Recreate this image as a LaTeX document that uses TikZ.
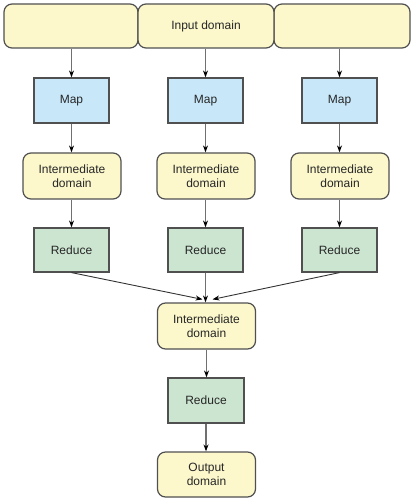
\documentclass[tikz,border=0pt]{standalone}
\usepackage{fontspec}
\setmainfont{Liberation Sans}
\usetikzlibrary{arrows.meta}
\definecolor{yel}{HTML}{FCF8CC}
\definecolor{blu}{HTML}{C8E8FA}
\definecolor{grn}{HTML}{CCE5D0}
\definecolor{edge}{HTML}{505050}
\definecolor{ln}{HTML}{707070}
\tikzset{
  box/.style={draw=edge, line width=1.2pt, inner sep=0pt, align=center, text=black!85,
    font=\fontsize{12}{14}\selectfont},
  dom/.style={box, fill=yel, rounded corners=8pt, minimum width=98pt, minimum height=46pt},
  mapbox/.style={box, fill=blu, minimum width=75pt, minimum height=45pt},
  redbox/.style={box, fill=grn, minimum width=75pt, minimum height=44pt},
  inseg/.style={box, fill=yel, rounded corners=8pt, minimum height=44pt},
  arr/.style={draw=ln, line width=1.4pt, -{Stealth[black,length=7pt,width=5pt]}},
  sarr/.style={draw=black!80, line width=0.9pt, -{Stealth[black,length=7pt,width=5pt]}}
}
\begin{document}
\begin{tikzpicture}[x=1pt,y=-1pt]
\useasboundingbox (0,0) rectangle (416,502);
% input domain segments
\node[inseg, minimum width=134pt] (in1) at (71,26) {};
\node[inseg, minimum width=136pt] (in3) at (342,26) {};
\node[inseg, minimum width=136pt] (in2) at (206,26) {Input domain};
% maps
\node[mapbox] (m1) at (71.5,100.5) {Map};
\node[mapbox] (m2) at (205.5,100.5) {Map};
\node[mapbox] (m3) at (339.5,100.5) {Map};
% intermediate
\node[dom] (i1) at (72,176) {Intermediate\\domain};
\node[dom] (i2) at (206,176) {Intermediate\\domain};
\node[dom] (i3) at (340,176) {Intermediate\\domain};
% reduce
\node[redbox] (r1) at (71.5,250) {Reduce};
\node[redbox] (r2) at (205.5,250) {Reduce};
\node[redbox] (r3) at (339.5,250) {Reduce};
% bottom chain
\node[dom] (i4) at (206.5,326) {Intermediate\\domain};
\node[redbox, minimum width=76pt, minimum height=45pt] (r4) at (206,400.5) {Reduce};
\node[dom, minimum height=45pt] (o) at (206.5,474.5) {Output\\domain};
% arrows
\draw[arr] (m1.north |- in1.south) -- (m1.north);
\draw[arr] (m2.north |- in2.south) -- (m2.north);
\draw[arr] (m3.north |- in3.south) -- (m3.north);
\draw[arr] (m1.south) -- (m1.south |- i1.north);
\draw[arr] (m2.south) -- (m2.south |- i2.north);
\draw[arr] (m3.south) -- (m3.south |- i3.north);
\draw[arr] (r1.north |- i1.south) -- (r1.north);
\draw[arr] (r2.north |- i2.south) -- (r2.north);
\draw[arr] (r3.north |- i3.south) -- (r3.north);
\coordinate (jl) at ([xshift=-4pt,yshift=3pt]i4.north);
\coordinate (jr) at ([xshift=6pt,yshift=3pt]i4.north);
\draw[sarr] (r1.south) -- (jl);
\draw[sarr] (r3.south) -- (jr);
\draw[arr] (r2.south) -- (r2.south |- i4.north);
\draw[arr] (i4.south) -- (i4.south |- r4.north);
\draw[arr] (r4.south) -- (r4.south |- o.north);
\end{tikzpicture}
\end{document}
